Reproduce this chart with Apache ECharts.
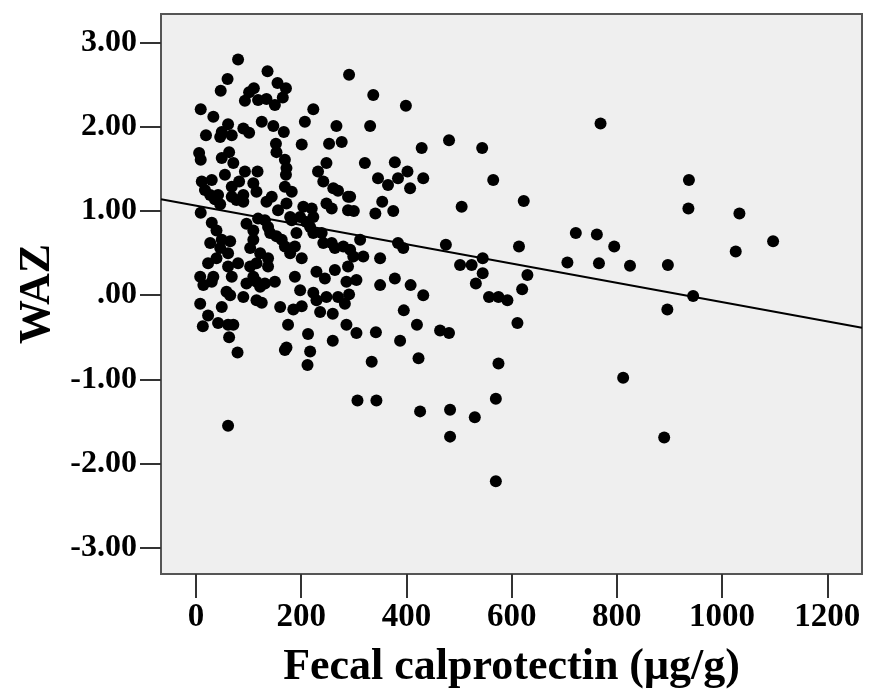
<!DOCTYPE html>
<html>
<head>
<meta charset="utf-8">
<script src="https://cdn.jsdelivr.net/npm/echarts@6/dist/echarts.min.js"></script>
<style>html,body{margin:0;padding:0;background:#fff}#c{width:869px;height:698px}</style>
</head>
<body>
<div id="c"></div>
<script>
// Data: [Fecal calprotectin (µg/g), WAZ]
const points = [
[80,2.80],[136,2.66],[291,2.62],[60,2.57],[110,2.46],[155,2.52],[171,2.46],[101,2.41],[93,2.31],[118,2.32],
[134,2.33],[150,2.26],[165,2.35],[47,2.43],[337,2.38],[399,2.25],[9,2.21],[223,2.21],[33,2.12],[207,2.06],
[267,2.01],[331,2.01],[61,2.03],[49,1.94],[90,1.98],[101,1.93],[125,2.06],[147,2.01],[167,1.94],[68,1.90],
[46,1.88],[19,1.90],[201,1.79],[253,1.80],[277,1.82],[429,1.75],[481,1.84],[544,1.75],[6,1.69],[9,1.61],
[49,1.63],[63,1.70],[71,1.57],[152,1.80],[153,1.70],[169,1.61],[172,1.51],[171,1.43],[248,1.57],[321,1.57],
[378,1.58],[55,1.43],[93,1.47],[117,1.47],[82,1.35],[109,1.33],[68,1.29],[90,1.19],[232,1.47],[242,1.35],
[261,1.27],[270,1.24],[289,1.17],[346,1.39],[365,1.31],[384,1.39],[402,1.47],[407,1.27],[432,1.39],[565,1.37],
[11,1.35],[30,1.37],[17,1.25],[27,1.19],[36,1.14],[46,1.08],[42,1.19],[68,1.17],[77,1.13],[90,1.11],
[115,1.23],[134,1.11],[144,1.17],[156,1.01],[169,1.29],[182,1.23],[172,1.09],[248,1.09],[258,1.03],[293,1.17],
[289,1.01],[300,1.00],[354,1.11],[375,1.00],[341,0.97],[505,1.05],[9,0.98],[30,0.86],[39,0.77],[118,0.91],
[96,0.85],[109,0.77],[131,0.89],[137,0.81],[141,0.74],[153,0.70],[179,0.93],[204,1.05],[220,1.03],[198,0.93],
[210,0.87],[223,0.93],[217,0.81],[223,0.74],[239,0.74],[191,0.74],[182,0.89],[27,0.62],[49,0.66],[65,0.64],
[46,0.56],[61,0.50],[39,0.44],[23,0.38],[61,0.34],[80,0.38],[109,0.66],[103,0.56],[122,0.50],[115,0.38],
[137,0.44],[137,0.34],[163,0.66],[169,0.58],[179,0.50],[201,0.44],[188,0.58],[242,0.62],[258,0.62],[264,0.56],
[280,0.58],[293,0.54],[299,0.46],[312,0.66],[318,0.46],[350,0.44],[384,0.62],[394,0.56],[475,0.60],[502,0.36],
[524,0.36],[545,0.44],[545,0.26],[532,0.14],[8,0.22],[14,0.12],[33,0.22],[68,0.22],[96,0.14],[103,0.34],
[109,0.22],[122,0.10],[131,0.14],[150,0.16],[188,0.22],[198,0.06],[229,0.28],[245,0.20],[264,0.30],[289,0.34],
[286,0.16],[305,0.18],[350,0.12],[378,0.20],[408,0.12],[432,0.00],[115,0.16],[30,0.16],
[58,0.04],[65,0.00],[90,-0.02],[115,-0.06],[125,-0.09],[8,-0.10],[49,-0.14],[23,-0.24],[42,-0.33],[13,-0.37],
[61,-0.35],[71,-0.35],[63,-0.50],[79,-0.68],[160,-0.14],[185,-0.17],[201,-0.13],[223,0.03],[229,-0.06],[248,-0.02],
[270,-0.02],[283,-0.10],[291,0.01],[236,-0.20],[260,-0.22],[175,-0.35],[213,-0.46],[169,-0.65],[172,-0.62],[217,-0.67],
[212,-0.83],[260,-0.54],[286,-0.35],[305,-0.45],[342,-0.44],[334,-0.79],[388,-0.54],[395,-0.18],[420,-0.35],[423,-0.75],
[464,-0.42],[481,-0.45],[557,-0.02],[575,-0.02],[592,-0.06],[575,-0.81],[307,-1.25],[343,-1.25],[426,-1.38],[483,-1.36],
[530,-1.45],[483,-1.68],[570,-1.23],[570,-2.21],[61,-1.55],
[769,2.04],[623,1.12],[937,1.37],[936,1.03],[1033,0.97],[1097,0.64],[1026,0.52],[722,0.74],[762,0.72],[795,0.58],
[706,0.39],[766,0.38],[825,0.35],[897,0.36],[614,0.58],[630,0.24],[620,0.07],[945,-0.01],[896,-0.17],[611,-0.33],
[812,-0.98],[890,-1.69]
];
// Fit line end points (read at the plot's left and right edges)
const fitLineX = [-66.5, 1266];
const fitLineY = [1.139, -0.386];
const xTicks = [0, 200, 400, 600, 800, 1000, 1200];
const yTicks = [-3, -2, -1, 0, 1, 2, 3];
const xTitle = 'Fecal calprotectin (μg/g)';
const yTitle = 'WAZ';

const font = 'Liberation Serif';
const chart = echarts.init(document.getElementById('c'), null, {renderer: 'canvas'});
chart.setOption({
  animation: false,
  backgroundColor: '#ffffff',
  grid: {
    left: 161, top: 14, right: 7, bottom: 124,
    containLabel: false, outerBoundsMode: 'none',
    show: true, backgroundColor: '#efefef', borderColor: '#555555', borderWidth: 2
  },
  xAxis: {
    type: 'value', min: fitLineX[0], max: fitLineX[1],
    splitLine: {show: false},
    axisLine: {show: false, onZero: false},
    axisTick: {show: true, customValues: xTicks, length: 24, lineStyle: {color: '#333', width: 2}},
    axisLabel: {customValues: xTicks, margin: 27, color: '#000', fontFamily: font, fontWeight: 'bold', fontSize: 33,
      formatter: v => String(v)},
    name: xTitle, nameLocation: 'middle', nameGap: 72,
    nameTextStyle: {color: '#000', fontFamily: font, fontWeight: 'bold', fontSize: 44}
  },
  yAxis: {
    type: 'value', min: -3.312, max: 3.341,
    splitLine: {show: false},
    axisLine: {show: false, onZero: false},
    axisTick: {show: true, customValues: yTicks, length: 21, lineStyle: {color: '#333', width: 2}},
    axisLabel: {customValues: yTicks, margin: 24, color: '#000', fontFamily: font, fontWeight: 'bold', fontSize: 32,
      formatter: v => { const s = v.toFixed(2); return s === '0.00' ? '.00' : s; }},
    name: yTitle, nameLocation: 'middle', nameGap: 99, nameRotate: 90,
    nameTextStyle: {color: '#000', fontFamily: font, fontWeight: 'bold', fontSize: 44}
  },
  series: [
    {
      type: 'scatter', data: points, symbol: 'circle', symbolSize: 12,
      itemStyle: {color: '#000', opacity: 1}, silent: true, z: 2
    },
    {
      type: 'line', data: fitLineX.map((x, i) => [x, fitLineY[i]]), symbol: 'none',
      lineStyle: {color: '#000', width: 2}, silent: true, z: 3
    }
  ]
});
</script>
</body>
</html>
